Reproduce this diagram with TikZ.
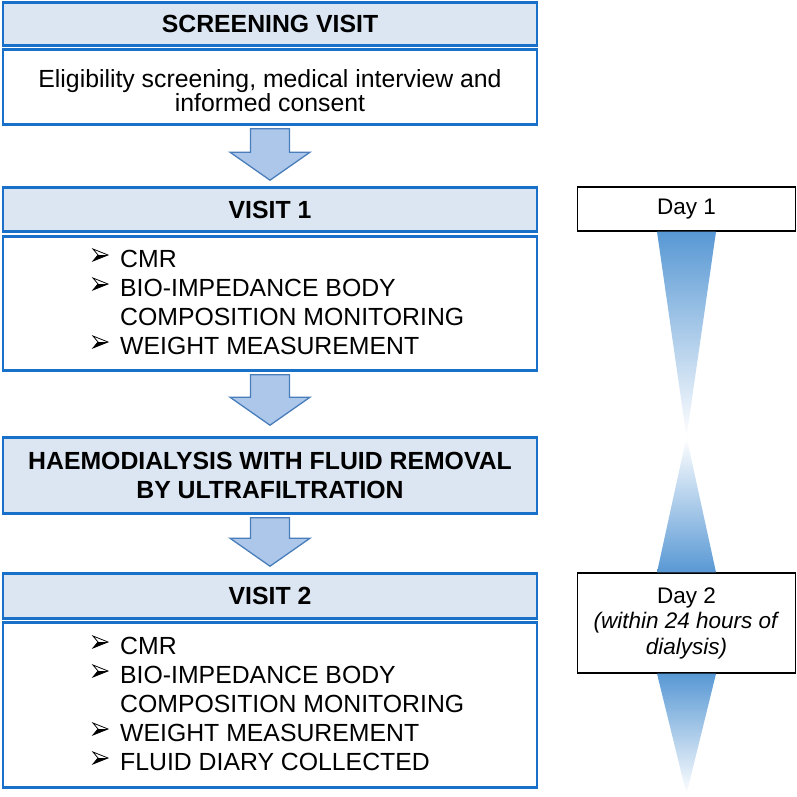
\documentclass[tikz,border=0pt]{standalone}
\usepackage{fontspec}
\setmainfont{Liberation Sans}
\usetikzlibrary{calc}
\definecolor{hdrfill}{RGB}{220,230,242}
\definecolor{boxblue}{RGB}{24,112,200}
\definecolor{arrfill}{RGB}{172,199,233}
\definecolor{arrline}{RGB}{74,126,187}
\definecolor{tribl}{RGB}{88,152,212}
\newcommand\blockarrow[3]{%
  \path let \p1=(#1.south), \p2=(#2.north) in
    [blockarr] (\x1-19.5pt,\y1-3pt) -- (\x1+19.5pt,\y1-3pt) -- (\x1+19.5pt,\y2+#3+28pt)
    -- (\x1+40pt,\y2+#3+28pt) -- (\x1,\y2+#3) -- (\x1-40pt,\y2+#3+28pt)
    -- (\x1-19.5pt,\y2+#3+28pt) -- cycle;}
\tikzset{
  hdr/.style={draw=boxblue, line width=2.6pt, fill=hdrfill, minimum width=534pt, inner sep=0pt,
    font=\fontsize{24.8}{29}\selectfont\bfseries, align=center},
  bodybox/.style={draw=boxblue, line width=2.6pt, fill=white, minimum width=534pt, inner sep=0pt},
  bodytext/.style={font=\fontsize{24.8}{23}\selectfont, align=center, inner sep=0pt},
  listtext/.style={font=\fontsize{24.8}{29}\selectfont, align=left, inner sep=0pt, anchor=west},
  blockarr/.style={draw=arrline, line width=1.3pt, fill=arrfill, line join=miter},
  daybox/.style={draw=black, line width=1.4pt, fill=white, minimum width=218pt, inner sep=0pt,
    font=\fontsize{22.5}{25.5}\selectfont, align=center},
  tridown/.style={top color=tribl, bottom color=white},
  triup/.style={top color=white, bottom color=tribl},
  arrbullet/.pic={
    \fill[black] (-2.5pt,0pt) -- (7.5pt,0pt) -- (-7.5pt,-6pt) -- cycle;
    \draw[black, line width=0.8pt, line join=miter] (-7.5pt,6pt) -- (7.5pt,0pt) -- (-7.5pt,-6pt) -- (-2.5pt,0pt) -- cycle;
  },
}
\begin{document}
\begin{tikzpicture}[x=1pt,y=-1pt]
\useasboundingbox (0,0) rectangle (797,796);
% left column
\node[hdr, minimum height=43pt] (scrH) at (270,24) {SCREENING VISIT};
\node[bodybox, minimum height=75pt] (scrB) at (270,87) {};
\node[bodytext] (scrT) at (270,91) {Eligibility screening, medical interview and\\informed consent};
\node[hdr, minimum height=44pt] (v1H) at (270,209.5) {VISIT 1};
\node[bodybox, minimum height=134pt] (v1B) at (270,303.5) {};
\node[listtext] (v1L) at (120,302) {CMR\\BIO-IMPEDANCE BODY\\COMPOSITION MONITORING\\WEIGHT MEASUREMENT};
\foreach \yy in {255,284,342} \pic at (100.5,\yy) {arrbullet};
\node[hdr, minimum height=76pt] (hd) at (270,475.5) {HAEMODIALYSIS WITH FLUID REMOVAL\\BY ULTRAFILTRATION};
\node[hdr, minimum height=45pt] (v2H) at (270,596) {VISIT 2};
\node[bodybox, minimum height=165pt] (v2B) at (270,705) {};
\node[listtext] (v2L) at (120,704) {CMR\\BIO-IMPEDANCE BODY\\COMPOSITION MONITORING\\WEIGHT MEASUREMENT\\FLUID DIARY COLLECTED};
\foreach \yy in {642,671,729,758} \pic at (100.5,\yy) {arrbullet};
% block arrows
\blockarrow{scrB}{v1H}{6pt}
\blockarrow{v1B}{hd}{11pt}
\blockarrow{hd}{v2H}{6pt}
% right column
\coordinate (mid) at (686.5,437);
\coordinate (end) at (686.5,794);
\node[daybox, minimum height=44pt] (d1) at (686.5,209) {Day 1};
\node[daybox, minimum height=100pt] (d2) at (686.5,623) {Day 2\\\textit{(within 24 hours of}\\\textit{dialysis)}};
\path let \p1=(d1.south) in [tridown] (\x1-29.5pt,\y1) -- (\x1+29.5pt,\y1) -- (mid) -- cycle;
\path let \p1=(d2.north) in [triup] (mid) -- (\x1+29.5pt,\y1) -- (\x1-29.5pt,\y1) -- cycle;
\path let \p1=(d2.south) in [tridown] (\x1-29.5pt,\y1) -- (\x1+29.5pt,\y1) -- (end) -- cycle;
\end{tikzpicture}
\end{document}
